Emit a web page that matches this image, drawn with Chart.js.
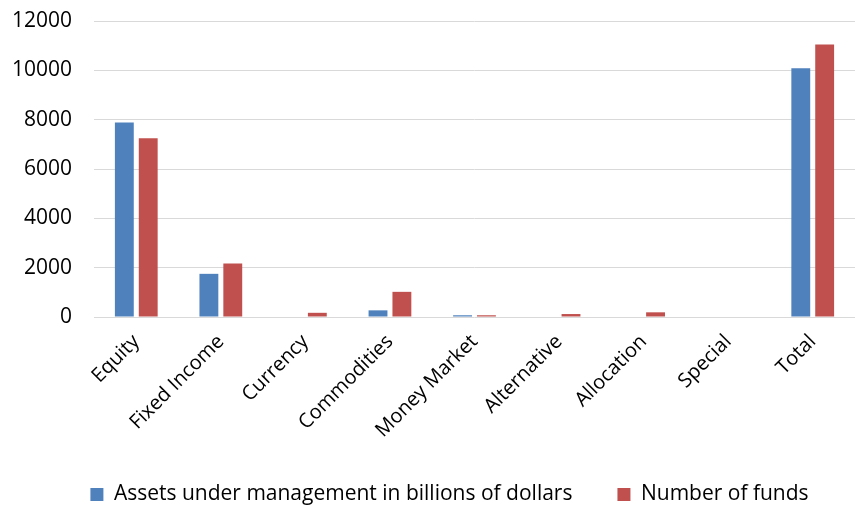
<!DOCTYPE html>
<html>
<head>
<meta charset="utf-8">
<script src="https://cdn.jsdelivr.net/npm/chart.js@4.4.1/dist/chart.umd.min.js"></script>
<style>
  html, body { margin: 0; padding: 0; background: #fff; }
  #wrap { width: 855px; height: 506px; }
</style>
</head>
<body>
<div id="wrap"><canvas id="chart"></canvas></div>
<script>
const categories = ['Equity', 'Fixed Income', 'Currency', 'Commodities', 'Money Market',
  'Alternative', 'Allocation', 'Special', 'Total'];
const assets = [7890, 1750, 0, 270, 70, 0, 20, 0, 10080];
const funds = [7250, 2170, 170, 1020, 70, 120, 190, 0, 11050];
const yTicks = [0, 2000, 4000, 6000, 8000, 10000, 12000];

const fontFamily = '"Open Sans", "Liberation Sans", sans-serif';

// nudge the legend row a little to the right of the plain centre
const legendShift = {
  id: 'legendShift',
  afterLayout(chart) {
    if (chart.legend) {
      chart.legend.left += 18;
      chart.legend.right += 18;
    }
  }
};

const ctx = document.getElementById('chart').getContext('2d');
new Chart(ctx, {
  type: 'bar',
  data: {
    labels: categories,
    datasets: [{
      label: 'Assets under management in billions of dollars',
      data: assets,
      backgroundColor: '#4F81BD',
      categoryPercentage: 0.565,
      barPercentage: 0.79
    }, {
      label: 'Number of funds',
      data: funds,
      backgroundColor: '#C0504D',
      categoryPercentage: 0.565,
      barPercentage: 0.79
    }]
  },
  plugins: [legendShift],
  options: {
    responsive: true,
    maintainAspectRatio: false,
    animation: false,
    layout: { padding: { top: 21, right: -8, left: 0, bottom: -9 } },
    scales: {
      x: {
        grid: { display: false },
        border: { display: false },
        ticks: {
          color: '#000',
          font: { family: fontFamily, size: 20 },
          minRotation: 45,
          maxRotation: 45,
          padding: 5
        },
        afterFit: axis => {
          axis.height = 122;
          axis.paddingRight = 0;
        }
      },
      y: {
        min: 0,
        max: 12000,
        afterBuildTicks: axis => { axis.ticks = yTicks.map(v => ({ value: v })); },
        grid: { color: '#d9d9d9', lineWidth: 1, drawTicks: false },
        border: { display: false },
        ticks: {
          color: '#000',
          font: { family: fontFamily, size: 21 },
          padding: 22,
          callback: v => String(v)
        },
        afterFit: axis => {
          axis.width = 94;
          axis.paddingTop = 0;
          axis.paddingBottom = 0;
        }
      }
    },
    plugins: {
      legend: {
        position: 'bottom',
        labels: {
          color: '#000',
          font: { family: fontFamily, size: 21 },
          boxWidth: 13,
          boxHeight: 13,
          padding: 45
        }
      },
      tooltip: { enabled: false }
    }
  }
});
</script>
</body>
</html>
